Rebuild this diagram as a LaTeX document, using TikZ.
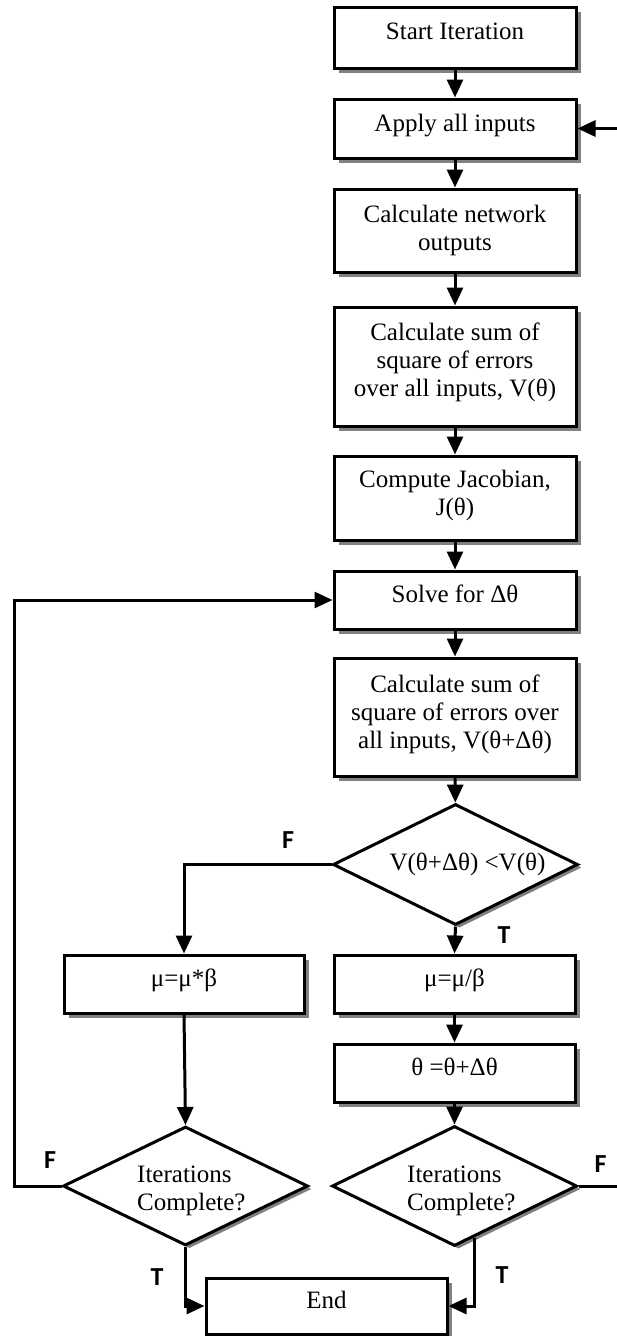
\documentclass[tikz,border=0pt]{standalone}
\usepackage{fontspec}
\setmainfont{Liberation Serif}
\newfontfamily\flagfont{Carlito}
\usetikzlibrary{arrows.meta,shapes.geometric,shadows,calc}

% extra depth below the last line of a multi-line box text
\newcommand\lowstrut[1]{\rule[-#1]{0pt}{#1}}

\begin{document}
\begin{tikzpicture}[x=1pt,y=-1pt,
  every node/.style={font=\fontsize{25}{28}\selectfont},
  boxshadow/.style={drop shadow={shadow xshift=5pt,shadow yshift=-5pt,fill=black!50,opacity=1}},
  process/.style={draw,line width=3pt,fill=white,rectangle,minimum width=242pt,
                  align=center,inner sep=0pt,boxshadow},
  oneline/.style={text depth=12pt},
  decision/.style={draw,line width=3pt,fill=white,diamond,minimum width=245pt,
                   minimum height=121pt,inner sep=0pt,
                   drop shadow={shadow xshift=4pt,shadow yshift=-3pt,fill=black!50,opacity=1}},
  dtext/.style={align=left,inner sep=0pt},
  flag/.style={font=\flagfont\bfseries\fontsize{26}{28}\selectfont,inner sep=0pt},
  flow/.style={line width=3pt,-{Triangle[length=18pt,width=16pt]}},
]
\useasboundingbox (0,0) rectangle (616,1336);

% main column
\node[process,oneline,minimum height=61pt] (start) at (455,37.5) {Start Iteration};
\node[process,oneline,minimum height=59pt] (apply) at (455,128.5) {Apply all inputs};
\node[process,minimum height=83pt] (netout) at (455,230.5) {Calculate network\\outputs};
\node[process,minimum height=119pt] (sse) at (455,366.5)
  {Calculate sum of\\square of errors\\over all inputs, V(θ)\lowstrut{13pt}};
\node[process,minimum height=84pt] (jac) at (455,498) {Compute Jacobian,\\J(θ)\lowstrut{11pt}};
\node[process,oneline,minimum height=58pt] (solve) at (455,600) {Solve for Δθ};
\node[process,minimum height=118pt] (sse2) at (455,717)
  {Calculate sum of\\square of errors over\\all inputs, V(θ+Δθ)\lowstrut{11pt}};

% first decision
\node[decision] (dec) at (455.5,864.5) {};
\node[inner sep=0pt] (dectext) at (467.5,864) {V(θ+Δθ) <V(θ)};

% damping updates
\node[process,oneline,minimum width=240pt,minimum height=58pt] (mulup) at (184,984) {μ=μ*β};
\node[process,oneline,minimum width=241pt,minimum height=58pt] (muldown) at (454.5,984) {μ=μ/β};
\node[process,oneline,minimum width=241pt,minimum height=58pt] (update) at (454.5,1073) {θ =θ+Δθ};

% termination checks
\node[decision,minimum height=119pt] (itL) at (185.5,1186) {};
\node[dtext,anchor=west] (itLtext) at (137,1191) {Iterations\\Complete?};
\node[decision,minimum height=120pt] (itR) at (454.5,1186) {};
\node[dtext,anchor=west] (itRtext) at (407,1191) {Iterations\\Complete?};

\node[process,oneline,minimum width=241pt,minimum height=56pt] (end) at (326.5,1306) {End};

% branch labels
\node[flag] (f1) at (288,840) {F};
\node[flag] (t1) at (504,935.5) {T};
\node[flag] (f2) at (50,1160) {F};
\node[flag] (t2) at (157,1277) {T};
\node[flag] (f3) at (600.5,1164) {F};
\node[flag] (t3) at (502,1275) {T};

% connectors
\draw[flow] (start) -- (apply);
\draw[flow] (apply) -- (netout);
\draw[flow] (netout) -- (sse);
\draw[flow] (sse) -- (jac);
\draw[flow] (jac) -- (solve);
\draw[flow] (solve) -- (sse2);
\draw[flow] (sse2) -- (dec);
\draw[flow] (dec.west) -| (mulup.north);
\draw[flow] (dec.south) -- (muldown.north);
\draw[flow] (muldown) -- (update);
\draw[flow] (update) -- (itR.north);
\draw[flow] (mulup.south) -- (itL.north);

\coordinate (loopL) at (14,1186);
\draw[flow] (itL.west) -- (loopL) |- (solve.west);

\coordinate (loopR) at (640,1186);
\draw[flow] (itR.east) -- (loopR) |- (apply.east);

\draw[flow] (itL.south) |- (end.west);
\coordinate (itRexit) at ($(itR.south)!0.16!(itR.east)$);
\draw[flow] (itRexit) |- (end.east);
\end{tikzpicture}
\end{document}
